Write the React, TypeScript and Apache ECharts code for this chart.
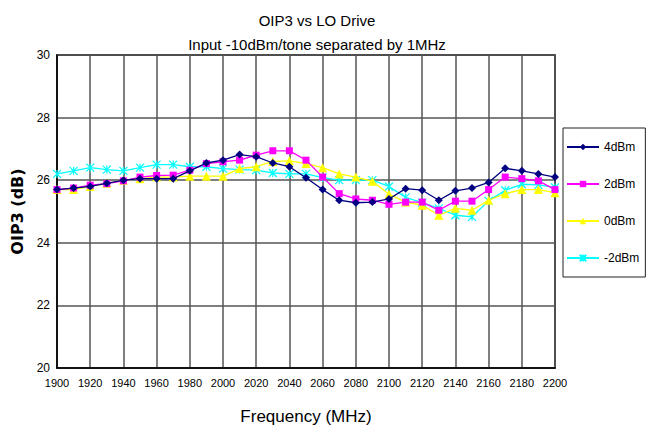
import React, { useEffect, useRef } from "react";
import * as echarts from "echarts";

const freqs = [1900,1910,1920,1930,1940,1950,1960,1970,1980,1990,2000,2010,2020,2030,2040,2050,2060,2070,2080,2090,2100,2110,2120,2130,2140,2150,2160,2170,2180,2190,2200];
const seriesNames = ["4dBm", "2dBm", "0dBm", "-2dBm"];
const s4dBm = [25.7,25.75,25.8,25.9,26.0,26.05,26.05,26.05,26.3,26.55,26.64,26.82,26.75,26.55,26.43,26.08,25.7,25.36,25.28,25.3,25.4,25.73,25.68,25.36,25.66,25.75,25.93,26.38,26.3,26.2,26.1];
const s2dBm = [25.7,25.75,25.84,25.89,25.98,26.1,26.15,26.16,26.32,26.53,26.59,26.64,26.8,26.94,26.94,26.64,26.1,25.57,25.4,25.36,25.23,25.3,25.3,25.04,25.33,25.33,25.7,26.1,26.05,25.98,25.7];
const s0dBm = [25.7,25.7,25.8,25.9,26.0,26.05,26.1,26.1,26.13,26.13,26.13,26.37,26.43,26.6,26.62,26.53,26.4,26.2,26.1,25.97,25.55,25.3,25.2,24.88,25.1,25.04,25.36,25.57,25.7,25.7,25.6];
const sM2dBm = [26.2,26.3,26.4,26.34,26.3,26.4,26.5,26.5,26.43,26.43,26.37,26.34,26.32,26.23,26.2,26.2,26.08,26.0,26.0,26.0,25.8,25.45,25.28,25.1,24.88,24.83,25.34,25.68,25.87,25.85,25.77];
const colors = ["#000080", "#ff00ff", "#ffff00", "#00ffff"];
const symbols = ["diamond", "rect", "triangle", "path://M0,0L10,10M10,0L0,10M5,0L5,10"];
const symbolSizes = [8, 7, 9, 8];

const font = "'Liberation Sans', Arial, sans-serif";

export default function App() {
  const ref = useRef<HTMLDivElement>(null);
  useEffect(() => {
    if (!ref.current) return;
    const chart = echarts.init(ref.current, null, { renderer: "svg" });
    const all = [s4dBm, s2dBm, s0dBm, sM2dBm];
    chart.setOption({
      animation: false,
      backgroundColor: "#ffffff",
      title: [
        { text: "OIP3 vs LO Drive", left: 312, top: 8, textAlign: "center",
          textStyle: { fontFamily: font, fontWeight: "normal", fontSize: 15, color: "#000" } },
        { text: "Input -10dBm/tone separated by 1MHz", left: 312, top: 32, textAlign: "center",
          textStyle: { fontFamily: font, fontWeight: "normal", fontSize: 15, color: "#000" } },
      ],
      grid: { left: 57, right: 94, top: 55, bottom: 71, show: true, borderColor: "#000", borderWidth: 1.5 },
      legend: {
        orient: "vertical",
        left: 563,
        top: 128,
        itemWidth: 32,
        itemHeight: 8,
        itemGap: 25,
        padding: [13, 6, 13, 3],
        borderColor: "#222",
        borderWidth: 1,
        backgroundColor: "#fff",
        textStyle: { fontFamily: font, fontSize: 12, color: "#000" },
        data: seriesNames,
      },
      xAxis: {
        type: "value",
        min: 1900,
        max: 2200,
        interval: 20,
        name: "Frequency (MHz)",
        nameLocation: "middle",
        nameGap: 40,
        nameTextStyle: { fontFamily: font, fontSize: 17, color: "#000" },
        axisLine: { show: true, lineStyle: { color: "#000", width: 1.5 } },
        axisTick: { show: false },
        axisLabel: { fontFamily: font, fontSize: 11, color: "#000", margin: 9, formatter: (v: number) => String(v) },
        splitLine: { show: true, lineStyle: { color: "#555", width: 1.5 } },
      },
      yAxis: {
        type: "value",
        min: 20,
        max: 30,
        interval: 2,
        name: "OIP3 (dB)",
        nameLocation: "middle",
        nameRotate: 90,
        nameGap: 30,
        nameTextStyle: { fontFamily: "'DejaVu Sans', sans-serif", fontWeight: "bold", fontSize: 16, color: "#000" },
        axisLine: { show: true, lineStyle: { color: "#000", width: 1.5 } },
        axisTick: { show: false },
        axisLabel: { fontFamily: font, fontSize: 12, color: "#000", margin: 7 },
        splitLine: { show: true, lineStyle: { color: "#555", width: 1.5 } },
      },
      series: seriesNames.map((name, i) => ({
        name,
        type: "line",
        data: freqs.map((f, j) => [f, all[i][j]]),
        symbol: symbols[i],
        symbolSize: symbolSizes[i],
        showSymbol: true,
        lineStyle: { color: colors[i], width: 1.3 },
        itemStyle: i === 3
          ? { color: colors[i], borderColor: colors[i], borderWidth: 1.2 }
          : { color: colors[i] },
        z: 10 - i,
      })),
    });
    return () => chart.dispose();
  }, []);
  return <div ref={ref} style={{ width: 649, height: 439, position: "absolute", left: 0, top: 0 }} />;
}
